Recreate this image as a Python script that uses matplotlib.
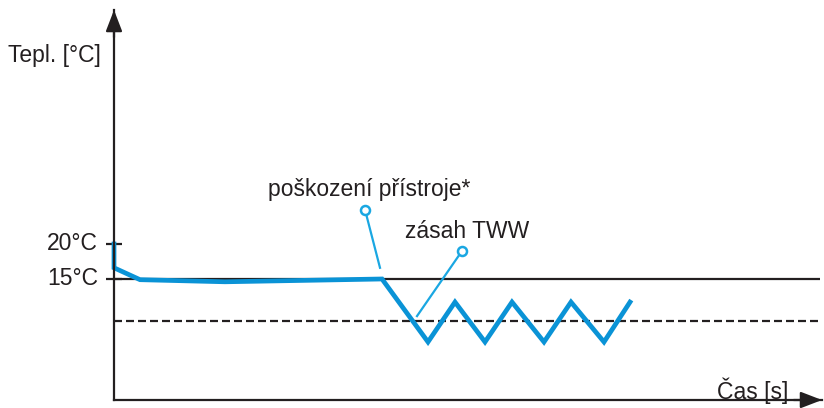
import matplotlib
matplotlib.use("Agg")
import matplotlib.pyplot as plt

plt.rcParams['font.family'] = ['Liberation Sans', 'DejaVu Sans']

# Temperature course over time (time in arbitrary units, temperature in °C)
time_s = [0, 0, 2.6, 11.1, 26.8, 31.4, 34.1, 37.1, 39.8, 43.0, 45.7, 49.0, 51.6]
temp_c = [20, 16.6, 14.9, 14.6, 15.0, 6.0, 11.7, 6.0, 11.7, 6.0, 11.7, 6.0, 11.7]

ref_level = 15.0      # solid reference line
limit_level = 9.0     # dashed limit line
tick_values = [20, 15]
tick_labels = ["20°C", "15°C"]

# Leader lines: (label point, anchor on the curve)
damage_pt = (25.1, 24.9)
damage_end = (26.6, 16.6)
tww_pt = (34.8, 19.0)
tww_end = (30.3, 9.7)

W, H = 824, 408
fig = plt.figure(figsize=(W / 100, H / 100), dpi=100)

def fx(px):
    return px / W

def fy(py):
    return 1 - py / H

x0, x1, y0, y1 = 114, 822, 400, 10
ax = fig.add_axes([fx(x0), fy(y0), fx(x1) - fx(x0), fy(y1) - fy(y0)])
ax.set_xlim(0, 70.8)
ax.set_ylim(-2.29, 53.43)

dark = "#231f20"
blue = "#0a93d6"
blue_light = "#1aa7e2"

for s in ("top", "right"):
    ax.spines[s].set_visible(False)
for s in ("left", "bottom"):
    ax.spines[s].set_color(dark)
    ax.spines[s].set_linewidth(1.6)
ax.set_xticks([])
ax.set_yticks([])

# arrow heads on the axes
head = dict(arrowstyle="-|>,head_length=1.3,head_width=0.5", color=dark,
            lw=1.6, mutation_scale=10, shrinkA=0, shrinkB=0)
ax.annotate("", xy=(1.0, 0), xytext=(0.96, 0), xycoords="axes fraction",
            textcoords="axes fraction", arrowprops=head, annotation_clip=False)
ax.annotate("", xy=(0, 1.0), xytext=(0, 0.93), xycoords="axes fraction",
            textcoords="axes fraction", arrowprops=head, annotation_clip=False)

# reference lines
ax.plot([0, 70.6], [ref_level, ref_level], color=dark, lw=1.6, solid_capstyle="butt")
ax.plot([0, 70.6], [limit_level, limit_level], color=dark, lw=1.6,
        linestyle=(0, (3.6, 1.8)))

# tick marks on the y axis
for v in tick_values:
    ax.plot([-0.8, 0.8], [v, v], color=dark, lw=1.6, clip_on=False, solid_capstyle="butt")

# temperature curve
ax.plot(time_s, temp_c, color=blue, lw=3.4, solid_joinstyle="miter", clip_on=False)

# leader lines with open circles
for pt, end in ((damage_pt, damage_end), (tww_pt, tww_end)):
    ax.plot([pt[0], end[0]], [pt[1], end[1]], color=blue_light, lw=1.6)
    ax.plot([pt[0]], [pt[1]], marker="o", ms=6.5, mfc="white", mec=blue_light, mew=1.8)

fs = 16.5
fig.text(fx(8), fy(62), "Tepl. [°C]", fontsize=fs, color=dark, ha="left", va="baseline")
for v, lab in zip(tick_values, tick_labels):
    yp = 279 - 7 * (v - 15)
    fig.text(fx(98), fy(yp + 6), lab, fontsize=fs, color=dark, ha="right", va="baseline")
fig.text(fx(717), fy(399), "Čas [s]", fontsize=fs, color=dark, ha="left", va="baseline")
fig.text(fx(268), fy(196), "poškození přístroje*", fontsize=fs, color=dark, ha="left", va="baseline")
fig.text(fx(405), fy(238), "zásah TWW", fontsize=fs, color=dark, ha="left", va="baseline")

fig.savefig("out.png", dpi=100)
